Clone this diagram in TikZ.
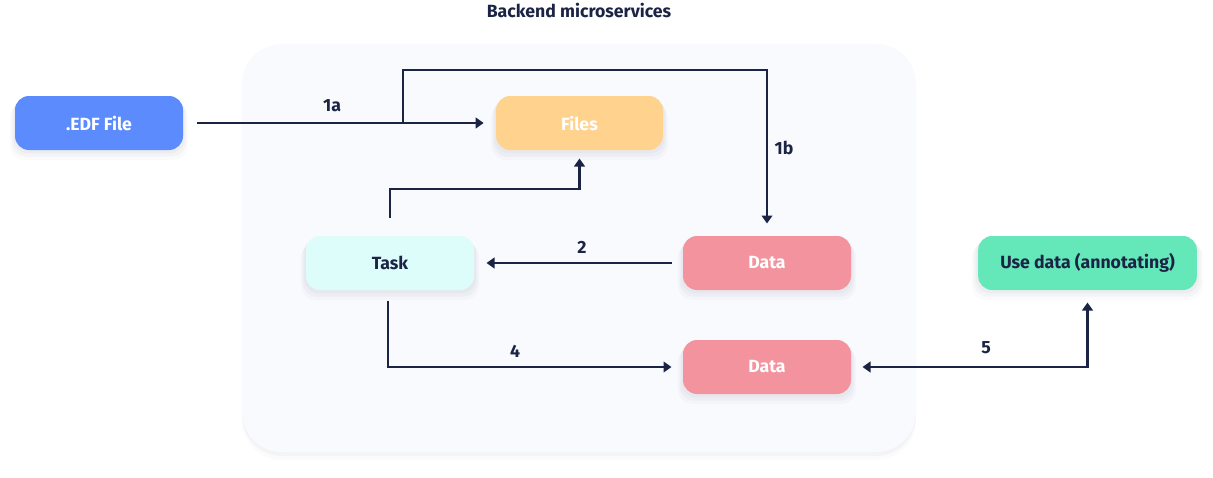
\documentclass[tikz,border=0pt]{standalone}
\usepackage{fontspec}
\setmainfont{Fira Sans}
\usetikzlibrary{arrows.meta,shadows}

\definecolor{inkNavy}{RGB}{27,36,68}
\definecolor{panelBg}{RGB}{249,250,254}
\definecolor{edfBlue}{RGB}{91,139,252}
\definecolor{filesOrange}{RGB}{255,210,142}
\definecolor{taskCyan}{RGB}{221,253,251}
\definecolor{dataRed}{RGB}{243,147,157}
\definecolor{useGreen}{RGB}{100,231,185}

\tikzset{every picture/.style={line width=0.75pt}}
\tikzset{
  soft/.style={
    drop shadow={shadow xshift=0pt, shadow yshift=-2pt, shadow scale=1.02, opacity=0.03, fill=inkNavy},
    drop shadow={shadow xshift=0pt, shadow yshift=-4pt, shadow scale=1.04, opacity=0.03, fill=inkNavy},
    drop shadow={shadow xshift=0pt, shadow yshift=-6pt, shadow scale=1.06, opacity=0.02, fill=inkNavy}},
  box/.style={rounded corners=10.5pt, minimum width=126pt, minimum height=40.5pt,
    inner sep=0.75pt, font=\bfseries\fontsize{13.25}{15}\selectfont, soft},
  flow/.style={draw=inkNavy, line width=2.2pt, -{Triangle[width=8pt,length=6pt]}},
  lbl/.style={text=inkNavy, inner sep=0.75pt, font=\bfseries\fontsize{13.25}{15}\selectfont}
}

\begin{document}
\begin{tikzpicture}[x=0.75pt,y=0.75pt,yscale=-1,xscale=1]
\useasboundingbox (0,0) rectangle (1213,478);

% Backend panel
\path [fill=panelBg, rounded corners=30pt,
  drop shadow={shadow xshift=0pt, shadow yshift=-3pt, opacity=0.03, fill=inkNavy},
  drop shadow={shadow xshift=0pt, shadow yshift=-6pt, opacity=0.02, fill=inkNavy}]
  (242,44) rectangle (916,452);
% Text Node
\node [lbl] (title) at (579,10) {Backend microservices};

% Boxes
\node [box, fill=edfBlue, text=white] (edf) at (99,123) {.EDF File};
\node [box, fill=filesOrange, text=white, minimum width=125pt] (files) at (579.5,123) {Files};
\node [box, fill=taskCyan, text=inkNavy] (task) at (390,263) {Task};
\node [box, fill=dataRed, text=white] (dataA) at (767,263) {Data};
\node [box, fill=dataRed, text=white] (dataB) at (767,367) {Data};
\node [box, fill=useGreen, text=inkNavy, minimum width=164pt] (use) at (1087.5,263) {Use data (annotating)};

% Bend points
\coordinate (split) at (403,123);
\coordinate (over) at (403,70);
\coordinate (rise) at (390,189);

%Straight Lines
\draw [flow, shorten <=9.75pt, shorten >=9pt] (edf.east) -- (files.west);
\draw [flow, line cap=rect, shorten >=9pt] (split) -- (over) -| (dataA.north);
\draw [flow, shorten <=13.5pt, shorten >=6pt] (task.north) -- (rise) -| (files.south);
\draw [flow, shorten <=8.25pt, shorten >=9pt] (dataA.west) -- (task.east);
\draw [flow, shorten <=7.5pt, shorten >=8.25pt] ([xshift=-1.5pt]task.south) |- (dataB.west);
\draw [flow, {Triangle[width=8pt,length=6pt]}-{Triangle[width=8pt,length=6pt]},
  shorten <=8.25pt, shorten >=9pt] (dataB.east) -| (use.south);

% Text Node
\node [lbl] (l1a) at (332,106) {1a};
\node [lbl] (l1b) at (784,148) {1b};
\node [lbl] (l2) at (582,247) {2};
\node [lbl] (l4) at (515,351) {4};
\node [lbl] (l5) at (986,348) {5};

\end{tikzpicture}
\end{document}
